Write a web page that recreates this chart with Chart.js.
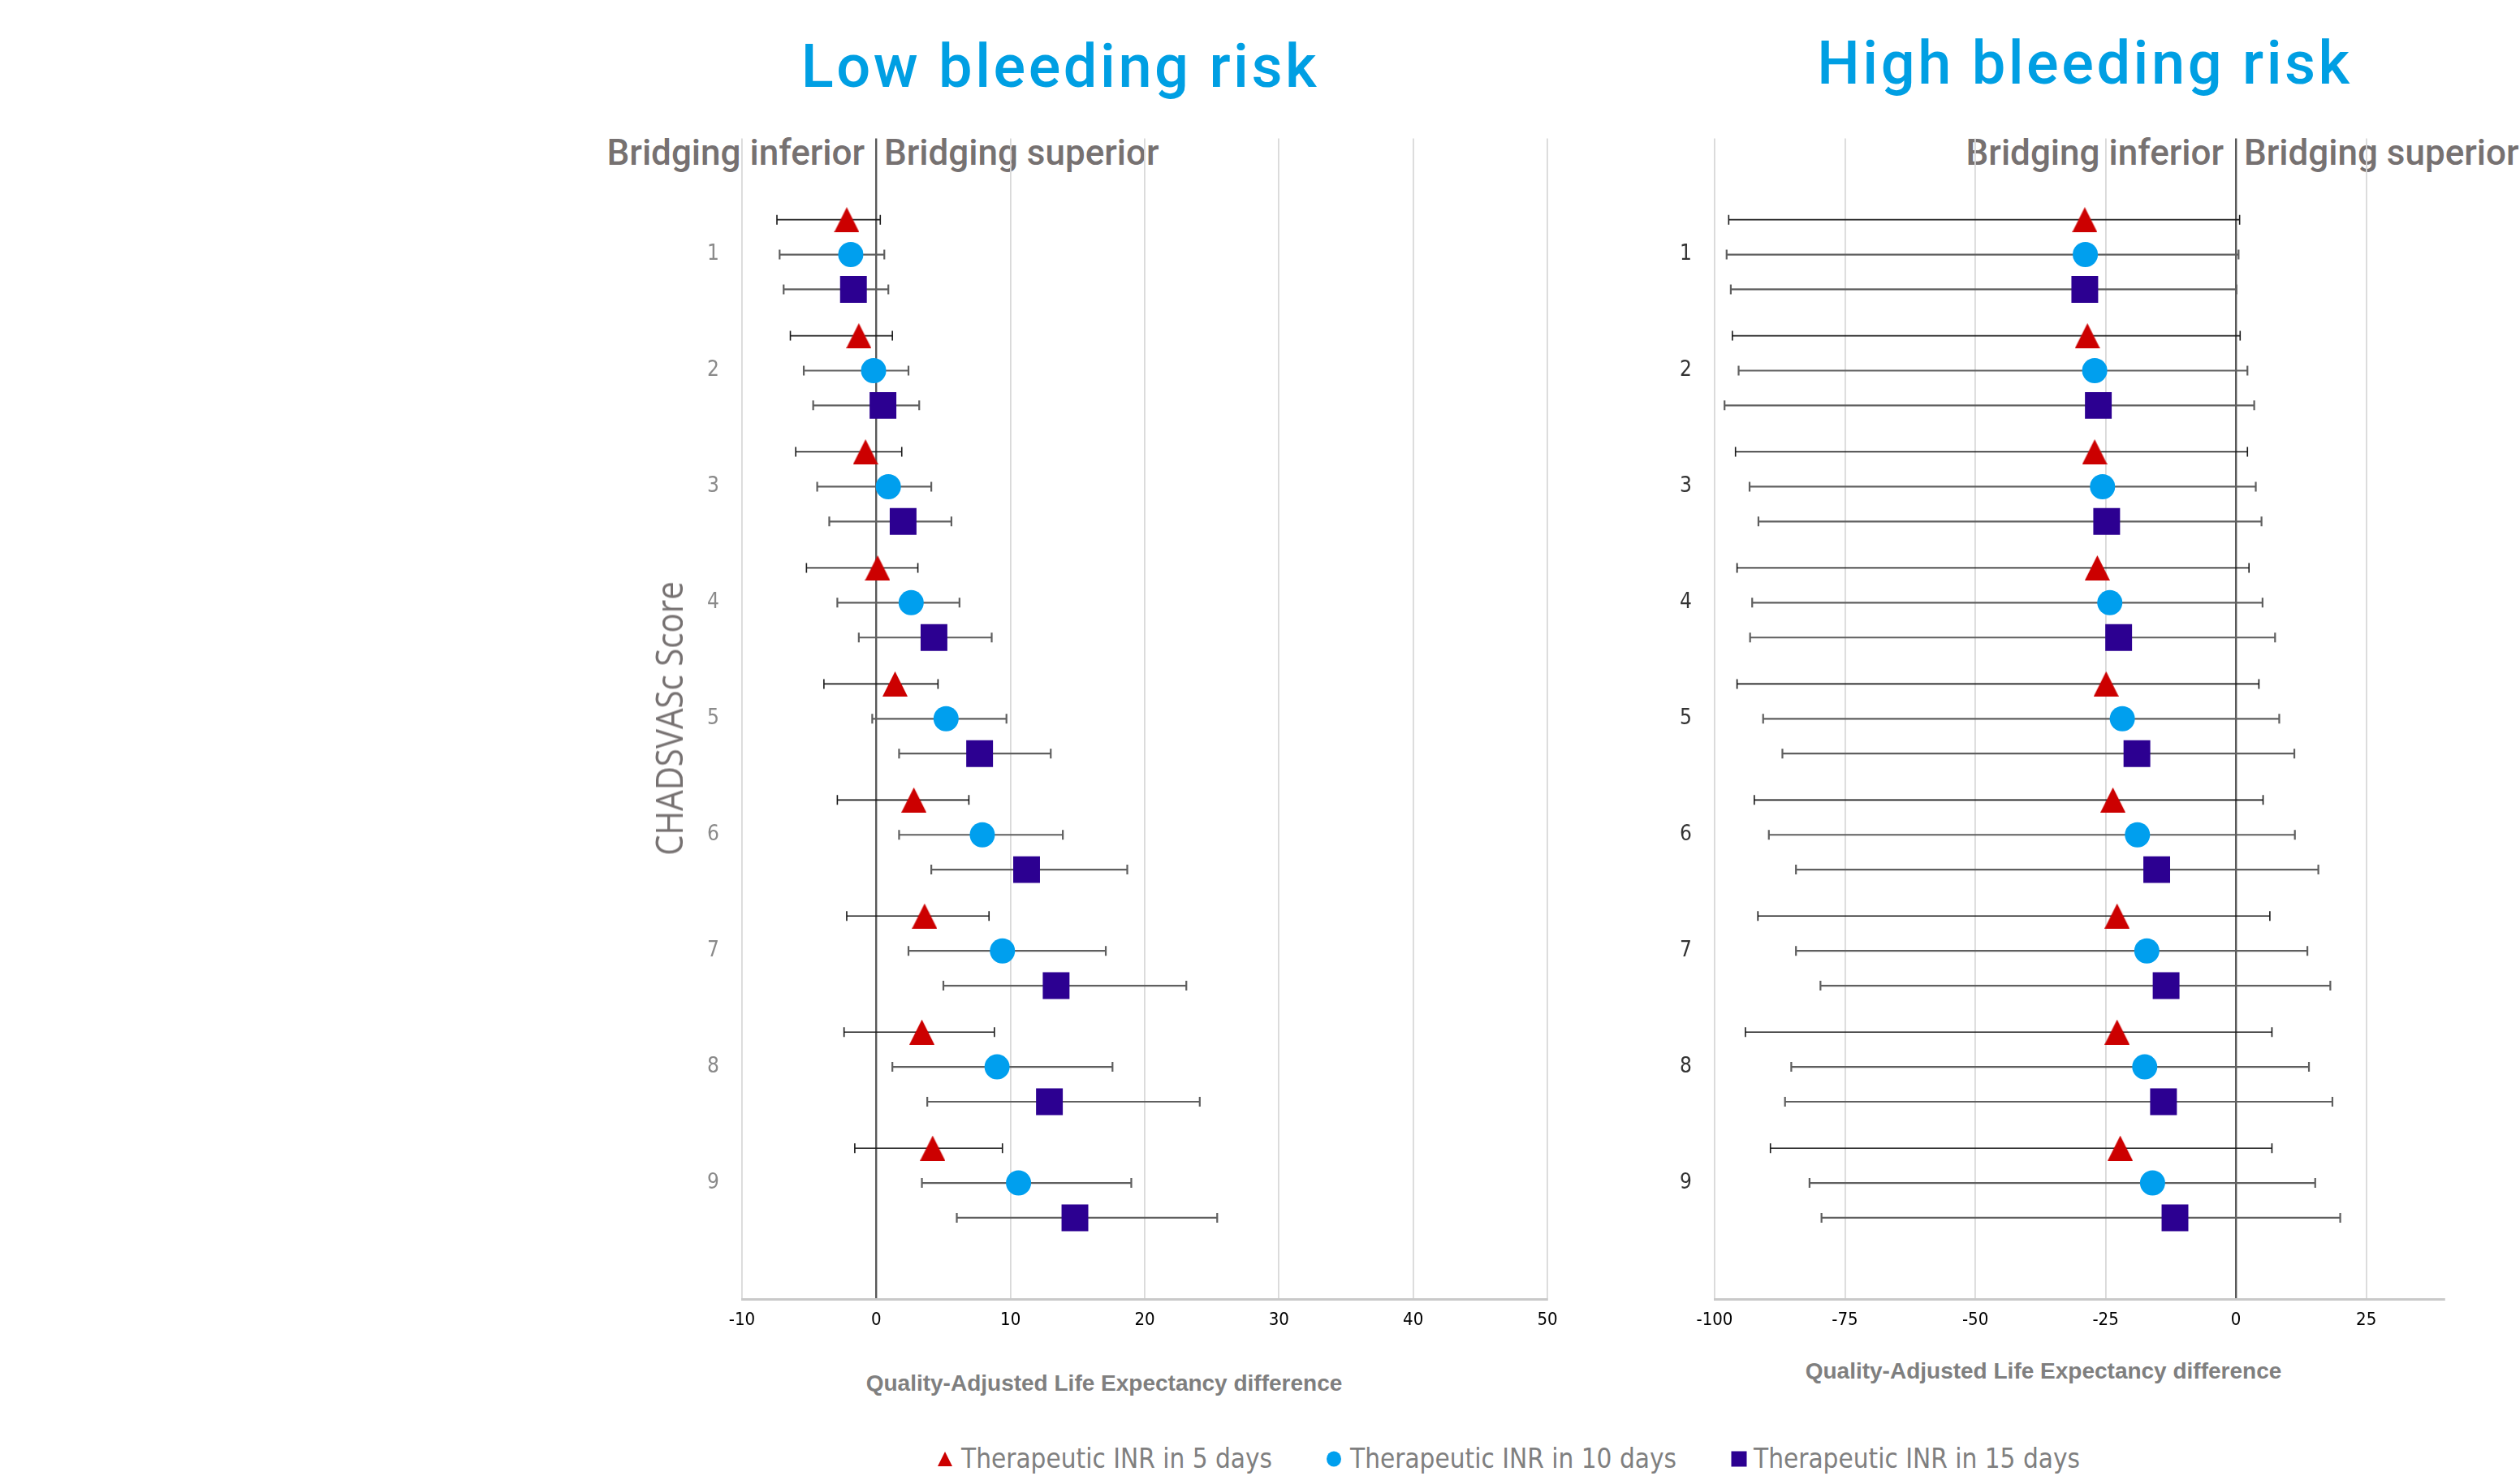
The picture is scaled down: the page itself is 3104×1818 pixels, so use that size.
<!DOCTYPE html>
<html>
<head>
<meta charset="utf-8">
<script src="https://cdn.jsdelivr.net/npm/chart.js@4.4.1/dist/chart.umd.min.js"></script>
<style>
  html, body { margin: 0; padding: 0; background: #fff; }
  body { width: 3104px; height: 1818px; position: relative; overflow: hidden; }
  .box { position: absolute; }
  .title { position: absolute; font-family: Roboto, "Liberation Sans", sans-serif; font-weight: 500; font-size: 74px; line-height: 74px; color: #009FE3; letter-spacing: 3.5px; white-space: nowrap; text-align: center; width: 900px; }
  .bridge { position: absolute; font-family: Roboto, "Liberation Sans", sans-serif; font-weight: 500; font-size: 44px; line-height: 44px; color: #767171; white-space: nowrap; }
  .xtitle { position: absolute; font-family: "Liberation Sans", Arial, sans-serif; font-weight: bold; font-size: 28px; line-height: 28px; color: #7f7f7f; white-space: nowrap; text-align: center; width: 800px; }
  .ytitle { position: absolute; left: 523px; top: 855px; width: 600px; height: 60px; line-height: 60px; text-align: center; font-family: "Open Sans", sans-serif; font-size: 46px; color: #767171; transform: rotate(-90deg) scaleX(0.875); white-space: nowrap; }
  .leg { position: absolute; top: 1778px; font-family: "Liberation Sans Narrow", "DejaVu Sans Condensed", sans-serif; font-size: 33px; line-height: 38px; color: #7f7f7f; white-space: nowrap; }
  .legm { position: absolute; }
</style>
</head>
<body>
<div class="title" style="left:856px; top:45px;">Low bleeding risk</div>
<div class="title" style="left:2118px; top:41px;">High bleeding risk</div>

<div class="bridge" style="right:2039px; top:166px;">Bridging inferior</div>
<div class="bridge" style="left:1089px; top:166px;">Bridging superior</div>
<div class="bridge" style="right:365px; top:166px;">Bridging inferior</div>
<div class="bridge" style="left:2764px; top:166px;">Bridging superior</div>

<div class="box" style="left:780px; top:127px; width:1160px; height:1523px;"><canvas id="lowChart"></canvas></div>
<div class="box" style="left:1990px; top:127px; width:1114px; height:1523px;"><canvas id="highChart"></canvas></div>

<div class="xtitle" style="left:960px; top:1690px;">Quality-Adjusted Life Expectancy difference</div>
<div class="xtitle" style="left:2117px; top:1675px;">Quality-Adjusted Life Expectancy difference</div>
<div class="ytitle">CHADSVASc Score</div>

<svg class="legm" style="left:1154px; top:1787px;" width="20" height="20"><polygon points="10,1 19,19 1,19" fill="#CC0000"/></svg>
<div class="leg" style="left:1184px;">Therapeutic INR in 5 days</div>
<svg class="legm" style="left:1633px; top:1787px;" width="20" height="20"><ellipse cx="10" cy="10" rx="9" ry="9.5" fill="#009FEE"/></svg>
<div class="leg" style="left:1663px;">Therapeutic INR in 10 days</div>
<svg class="legm" style="left:2132px; top:1787px;" width="20" height="20"><rect x="0.5" y="0.5" width="19" height="19" fill="#2C0091"/></svg>
<div class="leg" style="left:2160px;">Therapeutic INR in 15 days</div>

<script>
// ---------- DATA ----------
const scores = [1, 2, 3, 4, 5, 6, 7, 8, 9];
const seriesNames = ['Therapeutic INR in 5 days', 'Therapeutic INR in 10 days', 'Therapeutic INR in 15 days'];

// Low bleeding risk
const lowInr5Est  = [-2.2, -1.3, -0.8, 0.1, 1.4, 2.8, 3.6, 3.4, 4.2];
const lowInr5Lo   = [-7.4, -6.4, -6.0, -5.2, -3.9, -2.9, -2.2, -2.4, -1.6];
const lowInr5Hi   = [0.3, 1.2, 1.9, 3.1, 4.6, 6.9, 8.4, 8.8, 9.4];
const lowInr10Est = [-1.9, -0.2, 0.9, 2.6, 5.2, 7.9, 9.4, 9.0, 10.6];
const lowInr10Lo  = [-7.2, -5.4, -4.4, -2.9, -0.3, 1.7, 2.4, 1.2, 3.4];
const lowInr10Hi  = [0.6, 2.4, 4.1, 6.2, 9.7, 13.9, 17.1, 17.6, 19.0];
const lowInr15Est = [-1.7, 0.5, 2.0, 4.3, 7.7, 11.2, 13.4, 12.9, 14.8];
const lowInr15Lo  = [-6.9, -4.7, -3.5, -1.3, 1.7, 4.1, 5.0, 3.8, 6.0];
const lowInr15Hi  = [0.9, 3.2, 5.6, 8.6, 13.0, 18.7, 23.1, 24.1, 25.4];

// High bleeding risk
const highInr5Est  = [-29.0, -28.5, -27.1, -26.6, -24.9, -23.6, -22.8, -22.8, -22.2];
const highInr5Lo   = [-97.3, -96.6, -96.0, -95.7, -95.7, -92.4, -91.7, -94.1, -89.3];
const highInr5Hi   = [0.7, 0.8, 2.2, 2.5, 4.4, 5.2, 6.5, 6.9, 6.9];
const highInr10Est = [-28.9, -27.1, -25.6, -24.2, -21.8, -18.9, -17.1, -17.5, -16.0];
const highInr10Lo  = [-97.7, -95.4, -93.3, -92.8, -90.7, -89.6, -84.4, -85.3, -81.8];
const highInr10Hi  = [0.5, 2.2, 3.8, 5.1, 8.3, 11.3, 13.7, 14.0, 15.2];
const highInr15Est = [-29.0, -26.4, -24.8, -22.5, -19.0, -15.2, -13.4, -13.9, -11.7];
const highInr15Lo  = [-96.9, -98.1, -91.6, -93.2, -87.0, -84.4, -79.7, -86.5, -79.5];
const highInr15Hi  = [0.1, 3.5, 4.9, 7.5, 11.2, 15.8, 18.1, 18.5, 20.0];

// Axis ticks
const lowTicks  = [-10, 0, 10, 20, 30, 40, 50];
const highTicks = [-100, -75, -50, -25, 0, 25];
const seriesOffsets = [-0.3, 0, 0.3];

// ---------- STYLE ----------
const colTri = '#CC0000', colCirc = '#009FEE', colSq = '#2C0091';
function triangleImage(w, h, color) {
  const c = document.createElement('canvas');
  c.width = w; c.height = h;
  const g = c.getContext('2d');
  g.fillStyle = color;
  g.beginPath(); g.moveTo(w / 2, 0); g.lineTo(w, h); g.lineTo(0, h); g.closePath(); g.fill();
  return c;
}
const triImg = triangleImage(31, 31, colTri);

const errorBars = {
  id: 'errorBars',
  beforeDatasetsDraw(chart) {
    const ctx = chart.ctx, xs = chart.scales.x;
    chart.data.datasets.forEach((ds, i) => {
      const meta = chart.getDatasetMeta(i);
      ctx.save();
      ctx.strokeStyle = ds.errColor; ctx.lineWidth = ds.errWidth;
      meta.data.forEach((pt, j) => {
        const x1 = xs.getPixelForValue(ds.lo[j]);
        const x2 = xs.getPixelForValue(ds.hi[j]);
        const y = pt.y, cap = 6;
        ctx.beginPath();
        ctx.moveTo(x1, y); ctx.lineTo(x2, y);
        ctx.moveTo(x1, y - cap); ctx.lineTo(x1, y + cap);
        ctx.moveTo(x2, y - cap); ctx.lineTo(x2, y + cap);
        ctx.stroke();
      });
      ctx.restore();
    });
  }
};

function pts(est, k) { return est.map((v, i) => ({ x: v, y: scores[i] + seriesOffsets[k] })); }

function makeChart(id, ests, los, his, xmin, xmax, ticks, yWidth, padRight, yColor) {
  const styles = [
    { pointStyle: triImg, pointRadius: 16, color: colTri, errColor: '#1a1a1a', errWidth: 1.6 },
    { pointStyle: 'circle', pointRadius: 15.5, color: colCirc, errColor: '#5f5f5f', errWidth: 2.2 },
    { pointStyle: 'rect', pointRadius: 23.3, color: colSq, errColor: '#5f5f5f', errWidth: 2.2 }
  ];
  return new Chart(document.getElementById(id), {
    type: 'scatter',
    data: {
      datasets: ests.map((e, k) => ({
        label: seriesNames[k],
        data: pts(e, k),
        lo: los[k], hi: his[k],
        pointStyle: styles[k].pointStyle,
        pointRadius: styles[k].pointRadius,
        pointHoverRadius: styles[k].pointRadius,
        backgroundColor: styles[k].color,
        borderColor: styles[k].color,
        borderWidth: 0,
        errColor: styles[k].errColor,
        errWidth: styles[k].errWidth
      }))
    },
    options: {
      responsive: true,
      maintainAspectRatio: false,
      animation: false,
      layout: { padding: { top: 20, right: padRight, left: 0, bottom: 0 } },
      plugins: { legend: { display: false }, tooltip: { enabled: false }, title: { display: false } },
      scales: {
        x: {
          type: 'linear', min: xmin, max: xmax,
          afterBuildTicks: s => { s.ticks = ticks.map(v => ({ value: v })); },
          afterFit: s => { s.height = 50; },
          grid: {
            drawTicks: false,
            color: c => (c.tick && c.tick.value === 0) ? '#595959' : '#d9d9d9',
            lineWidth: c => (c.tick && c.tick.value === 0) ? 2.4 : 1.8
          },
          border: { display: true, color: '#c9c9c9', width: 3 },
          ticks: { padding: 13, color: '#000', font: { family: '"Liberation Sans Narrow", "DejaVu Sans Condensed", sans-serif', size: 22 } }
        },
        y: {
          type: 'linear', min: 0, max: 10, reverse: true,
          afterBuildTicks: s => { s.ticks = scores.map(v => ({ value: v })); },
          afterFit: s => { s.width = yWidth; },
          grid: { display: false, drawTicks: false },
          border: { display: false },
          ticks: { padding: 28, color: yColor, font: { family: '"Liberation Sans Narrow", "DejaVu Sans Condensed", sans-serif', size: 26 } }
        }
      }
    },
    plugins: [errorBars]
  });
}

makeChart('lowChart',
  [lowInr5Est, lowInr10Est, lowInr15Est],
  [lowInr5Lo, lowInr10Lo, lowInr15Lo],
  [lowInr5Hi, lowInr10Hi, lowInr15Hi],
  -10, 50, lowTicks, 134, 34, '#8a8a8a');

makeChart('highChart',
  [highInr5Est, highInr10Est, highInr15Est],
  [highInr5Lo, highInr10Lo, highInr15Lo],
  [highInr5Hi, highInr10Hi, highInr15Hi],
  -100, 40, highTicks, 122, 93, '#333333');
</script>
</body>
</html>
